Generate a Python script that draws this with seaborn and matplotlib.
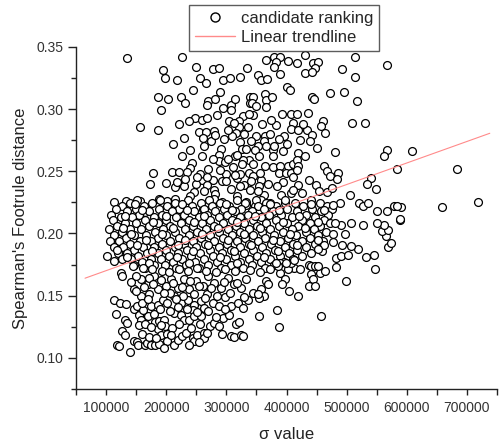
import numpy as np
import pandas as pd
import matplotlib
matplotlib.use("Agg")
import matplotlib.pyplot as plt
import seaborn as sns
from matplotlib.ticker import MultipleLocator, FormatStrFormatter
from matplotlib.lines import Line2D

# sigma values are written in thousands, distances as read on the y scale
upper_sigma_k = [134, 226, 194, 198, 218, 249, 256, 266, 278, 288, 294, 306, 323, 335,
                 187, 203, 225, 191, 156, 187, 270, 267, 248, 260, 268, 284, 294, 307, 308, 328, 321,
                 255, 266, 261, 321, 316, 336, 323, 326, 291, 288, 287, 240, 227, 260, 243, 239, 311, 338, 337,
                 209, 222, 234, 178, 173, 199, 259, 277, 256, 280, 307, 281, 280, 292, 317, 333,
                 114, 133, 156, 188, 164, 202, 214, 219, 237, 247, 239, 261, 340, 339, 344]
upper_dist = [0.341, 0.342, 0.331, 0.325, 0.323, 0.334, 0.325, 0.321, 0.332, 0.333, 0.323, 0.325, 0.326, 0.333,
              0.310, 0.308, 0.310, 0.299, 0.2855, 0.2835, 0.3066, 0.3034, 0.293, 0.291, 0.293, 0.2954, 0.301, 0.303, 0.2994, 0.2944, 0.2906,
              0.2815, 0.2815, 0.2767, 0.2852, 0.2807, 0.2852, 0.2735, 0.268, 0.268, 0.2633, 0.258, 0.2667, 0.262, 0.262, 0.257, 0.2528, 0.253, 0.2486, 0.259,
              0.2496, 0.2496, 0.2496, 0.2483, 0.240, 0.2402, 0.243, 0.243, 0.2478, 0.235, 0.236, 0.232, 0.2277, 0.2253, 0.2298, 0.2255,
              0.2253, 0.2258, 0.2263, 0.228, 0.217, 0.2263, 0.228, 0.2213, 0.2226, 0.233, 0.2304, 0.2197, 0.310, 0.305, 0.2954]

mid_sigma_k = [352, 357, 368, 366, 379, 390, 383, 403, 379, 390, 401, 406, 344, 343, 350, 365, 366, 376, 366,
               383, 408, 411, 407, 349, 364, 362, 366, 352, 347, 377, 377, 364, 377, 390, 402, 411, 387, 399, 408,
               358, 369, 355, 391, 408, 397, 363, 372, 358, 347, 333,
               431, 417, 444, 453, 448, 431, 442, 514, 493, 514, 567, 472, 496, 442, 446, 518, 436, 460, 457, 464,
               509, 530, 419, 434, 422, 442, 439, 451, 481, 419, 431, 417, 419, 417, 567, 562, 462, 467, 473, 486,
               484, 438, 449, 454, 467, 475, 541, 534, 549, 584, 419, 411, 425,
               268, 292, 300, 318, 330, 345, 298, 315, 328, 340, 395, 410, 356, 384, 262, 250, 230, 215, 310, 280,
               396, 428, 305, 322,
               262, 274, 281, 296, 303, 313, 330, 341, 333, 318, 302, 289, 300, 314, 326, 345, 354, 341, 352, 323,
               270, 278, 268, 252, 231, 218, 395, 388, 372, 380, 401, 418, 392, 374, 359, 337, 315, 290, 281, 245,
               232, 238, 221, 212, 229]
mid_dist = [0.3275, 0.3235, 0.3243, 0.3396, 0.3417, 0.342, 0.338, 0.339, 0.3337, 0.328, 0.318, 0.3155, 0.3096, 0.3048, 0.3026, 0.3123, 0.3074, 0.310, 0.302,
            0.2874, 0.296, 0.289, 0.284, 0.278, 0.278, 0.274, 0.2705, 0.270, 0.2673, 0.2667, 0.2625, 0.2539, 0.2534, 0.254, 0.2544, 0.256, 0.2486, 0.2486, 0.2486,
            0.243, 0.240, 0.2384, 0.231, 0.2325, 0.2245, 0.231, 0.2245, 0.227, 0.2218, 0.223,
            0.3436, 0.337, 0.337, 0.338, 0.333, 0.329, 0.330, 0.342, 0.332, 0.326, 0.3355, 0.3128, 0.3136, 0.310, 0.3082, 0.3061, 0.2968, 0.290, 0.2866, 0.2807,
            0.289, 0.289, 0.2834, 0.2834, 0.2753, 0.2793, 0.274, 0.2687, 0.2651, 0.2646, 0.262, 0.2593, 0.2545, 0.2507, 0.2673, 0.2625, 0.2539, 0.2504, 0.2464, 0.2486,
            0.2438, 0.2432, 0.239, 0.2338, 0.233, 0.2365, 0.2446, 0.240, 0.2357, 0.2515, 0.239, 0.235, 0.2325,
            0.239, 0.242, 0.248, 0.2445, 0.239, 0.246, 0.2575, 0.262, 0.259, 0.235, 0.241, 0.245, 0.2485, 0.238, 0.2345, 0.240, 0.238, 0.237, 0.278, 0.282,
            0.278, 0.288, 0.2905, 0.2475,
            0.270, 0.274, 0.279, 0.276, 0.283, 0.289, 0.280, 0.274, 0.268, 0.263, 0.260, 0.251, 0.242, 0.247, 0.256, 0.256, 0.262, 0.242, 0.234, 0.238,
            0.252, 0.260, 0.245, 0.245, 0.244, 0.241, 0.266, 0.276, 0.280, 0.270, 0.272, 0.296, 0.296, 0.291, 0.288, 0.296, 0.308, 0.314, 0.308, 0.315,
            0.305, 0.290, 0.288, 0.272, 0.277]

# dense core of the cloud, one list of sigma values per distance level
band_levels = [0.2271, 0.2248, 0.2224, 0.2199, 0.2177, 0.2152, 0.2128, 0.2105,
               0.2081, 0.2057, 0.2034, 0.2010, 0.1986, 0.1962, 0.1939, 0.1915,
               0.1891, 0.1868, 0.1844, 0.1820, 0.1797, 0.1773, 0.1749, 0.1726,
               0.2236, 0.2189, 0.2140, 0.2093, 0.2045, 0.1998, 0.1950, 0.1903,
               0.1856, 0.1808, 0.1761]
band_sigma_k = [
    [152, 190, 236, 271, 318, 349, 398, 441],
    [139, 176, 214, 258, 289, 331, 366, 414, 455],
    [127, 163, 201, 243, 276, 305, 352, 383, 427, 468],
    [117, 149, 188, 222, 262, 296, 324, 362, 401, 443, 476],
    [134, 171, 209, 247, 281, 314, 343, 378, 418, 457],
    [109, 155, 193, 230, 268, 301, 336, 371, 391, 432, 469],
    [124, 143, 180, 216, 254, 287, 322, 357, 409, 448],
    [111, 164, 199, 238, 273, 309, 344, 382, 425, 463],
    [131, 150, 186, 225, 259, 294, 330, 366, 400, 439, 472],
    [118, 171, 207, 244, 279, 316, 351, 388, 419, 455],
    [105, 139, 158, 194, 231, 266, 302, 338, 373, 409, 446],
    [126, 181, 214, 251, 287, 323, 359, 394, 432, 466],
    [113, 147, 167, 200, 238, 272, 309, 345, 380, 416, 453],
    [133, 187, 222, 258, 294, 331, 365, 403, 439],
    [107, 121, 156, 174, 207, 244, 280, 317, 352, 389, 425, 461],
    [140, 193, 229, 265, 301, 338, 374, 411, 447],
    [114, 128, 162, 180, 214, 250, 287, 323, 360, 397, 432],
    [147, 199, 235, 272, 308, 345, 381, 418],
    [120, 135, 168, 186, 220, 257, 293, 330, 366, 404, 441],
    [153, 205, 242, 278, 315, 351, 389, 426],
    [127, 141, 174, 192, 227, 263, 300, 337, 373, 411],
    [159, 211, 248, 285, 322, 358, 396],
    [146, 180, 198, 233, 270, 307, 343, 380],
    [165, 217, 254, 291, 328, 365],
    [148, 226, 300, 372, 440],
    [160, 235, 309, 388, 462],
    [131, 199, 262, 348, 420],
    [178, 247, 318, 395, 452],
    [128, 212, 286, 356, 430],
    [141, 193, 260, 329, 406, 478],
    [166, 232, 303, 377, 452],
    [151, 219, 270, 341, 418],
    [176, 244, 313, 386, 459],
    [134, 218, 289, 362],
    [172, 238, 317, 390],
]

right_sigma_k = [589, 568, 574, 565, 559, 569, 562, 550, 527, 508, 491, 480, 519, 508, 498, 493, 477, 463, 452,
                 506, 520, 528, 536, 550, 567, 578, 489, 478, 590, 583, 588,
                 608, 684, 659, 718, 101, 113, 118, 124, 127]
right_dist = [0.2105, 0.189, 0.192, 0.198, 0.2017, 0.203, 0.207, 0.208, 0.207, 0.2085, 0.207, 0.2085, 0.1876, 0.190, 0.1996, 0.191, 0.193, 0.1905, 0.1876,
              0.231, 0.2245, 0.2218, 0.2245, 0.2178, 0.2178, 0.2218, 0.2245, 0.223, 0.221, 0.2218, 0.2116,
              0.266, 0.252, 0.2213, 0.2255, 0.182, 0.178, 0.187, 0.1683, 0.166]

lower_sigma_k = [113, 123, 133, 116, 132, 134, 126, 131, 119, 122, 140,
                 147, 152, 153, 165, 168, 146, 154, 158, 155,
                 169, 179, 181, 188, 196, 198, 186, 191, 201, 174, 181, 188, 202, 213, 219, 227, 233, 244, 247, 252,
                 262, 263, 272, 280, 288, 294, 305, 308, 312, 316,
                 213, 224, 236, 247, 258, 244, 263, 277, 288, 308, 319, 327, 336,
                 147, 158, 152, 161, 174, 186, 194, 202, 213, 224, 230, 238, 247, 258,
                 158, 169, 180, 186, 200, 208, 219, 230, 238, 250, 261, 269, 280, 291, 302, 313, 324, 333,
                 145, 162, 176, 193, 205, 222, 236, 252, 266, 283, 298, 315, 340, 356, 372, 390,
                 150, 172, 206, 228, 268, 298, 345,
                 413, 423, 402, 407, 413, 399, 386, 383, 438, 441, 447, 440, 444, 438, 448, 455, 464, 452,
                 482, 499, 483, 490, 502, 532, 545, 547,
                 457, 419, 404, 397, 392, 384, 388, 354, 358, 362, 355, 352, 366, 369, 321, 324, 327,
                 142, 150, 163, 171, 178, 192, 197, 211, 216, 226, 240, 246, 255, 265, 275, 284, 296, 306, 318, 329,
                 160, 170, 190, 206, 219, 234, 252, 270, 282, 297,
                 164, 175, 192, 210, 222, 241, 256, 268, 292,
                 159, 172, 208, 238, 255, 196, 183]
lower_dist = [0.1468, 0.1442, 0.1434, 0.135, 0.1308, 0.1276, 0.1214, 0.118, 0.110, 0.1094, 0.1048,
              0.1134, 0.113, 0.1107, 0.110, 0.112, 0.1396, 0.1348, 0.1308, 0.126,
              0.1335, 0.1353, 0.1286, 0.1294, 0.1308, 0.1254, 0.1228, 0.1187, 0.1195, 0.1107, 0.110, 0.1115, 0.1134, 0.1107, 0.1147, 0.1174, 0.120, 0.116, 0.1134, 0.1187,
              0.120, 0.116, 0.1254, 0.128, 0.1254, 0.1322, 0.1348, 0.1174, 0.117, 0.1268,
              0.1495, 0.1442, 0.1468, 0.1428, 0.1455, 0.1388, 0.1402, 0.1442, 0.1415, 0.1415, 0.1442, 0.1402, 0.1468,
              0.155, 0.1495, 0.1415, 0.1388, 0.1415, 0.1428, 0.1468, 0.1442, 0.1362, 0.1348, 0.1308, 0.1308, 0.1335, 0.1335,
              0.163, 0.159, 0.1656, 0.155, 0.1576, 0.163, 0.1563, 0.163, 0.155, 0.1615, 0.1576, 0.1656, 0.160, 0.1563, 0.1643, 0.159, 0.1563, 0.163,
              0.1736, 0.1725, 0.171, 0.170, 0.169, 0.1715, 0.1695, 0.172, 0.170, 0.169, 0.1712, 0.1695, 0.1705, 0.169, 0.1712, 0.168,
              0.1535, 0.151, 0.1525, 0.150, 0.151, 0.149, 0.1525,
              0.172, 0.1715, 0.1715, 0.176, 0.179, 0.176, 0.1736, 0.176, 0.175, 0.1736, 0.174, 0.1677, 0.163, 0.158, 0.158, 0.1683, 0.1696, 0.1736,
              0.173, 0.1615, 0.180, 0.182, 0.183, 0.181, 0.183, 0.1717,
              0.1335, 0.150, 0.1535, 0.1635, 0.159, 0.1383, 0.1246, 0.1335, 0.155, 0.1495, 0.148, 0.1517, 0.1615, 0.159, 0.1286, 0.118, 0.1174,
              0.161, 0.1655, 0.157, 0.1645, 0.159, 0.1625, 0.152, 0.160, 0.147, 0.157, 0.162, 0.151, 0.158, 0.148, 0.156, 0.150, 0.161, 0.152, 0.160, 0.149,
              0.144, 0.147, 0.139, 0.138, 0.141, 0.139, 0.137, 0.138, 0.133, 0.139,
              0.127, 0.125, 0.1265, 0.124, 0.127, 0.124, 0.127, 0.120, 0.119,
              0.119, 0.117, 0.118, 0.110, 0.113, 0.108, 0.116]

# linear trendline end points
trend_sigma = [65000, 738000]
trend_dist = [0.164, 0.2805]

band_x = [s for row in band_sigma_k for s in row]
band_y = [lvl for lvl, row in zip(band_levels, band_sigma_k) for _ in row]

sigma = np.array(upper_sigma_k + mid_sigma_k + band_x + right_sigma_k + lower_sigma_k, dtype=float) * 1000
dist = np.array(upper_dist + mid_dist + band_y + right_dist + lower_dist, dtype=float)
df = pd.DataFrame({"sigma": sigma, "dist": dist})
trend = pd.DataFrame({"sigma": trend_sigma, "dist": trend_dist})

sns.set_style("ticks")
plt.rcParams["font.family"] = ["Liberation Sans", "DejaVu Sans"]

fig = plt.figure(figsize=(5.0, 4.46), dpi=100)
ax = fig.add_axes([0.152, 0.128, 0.842, 0.767])

sns.scatterplot(data=df, x="sigma", y="dist", ax=ax, marker="o", s=32,
                facecolor="white", edgecolor="black", linewidth=0.9, legend=False, zorder=2)
sns.lineplot(data=trend, x="sigma", y="dist", ax=ax, color="#ff8a8a", linewidth=0.8,
             legend=False, zorder=3)

ax.set_xlim(50000, 750000)
ax.set_ylim(0.075, 0.35)
ax.xaxis.set_major_locator(MultipleLocator(100000))
ax.xaxis.set_minor_locator(MultipleLocator(50000))
ax.yaxis.set_major_locator(MultipleLocator(0.05))
ax.yaxis.set_minor_locator(MultipleLocator(0.025))
ax.yaxis.set_major_formatter(FormatStrFormatter("%.2f"))
ax.xaxis.set_major_formatter(FormatStrFormatter("%d"))

sns.despine(ax=ax)
for side in ("left", "bottom"):
    ax.spines[side].set_linewidth(1.0)
    ax.spines[side].set_color("#222222")

ax.tick_params(axis="both", which="both", direction="out", colors="#222222",
               labelcolor="#333333", labelsize=10, width=1.0)
ax.tick_params(axis="x", which="major", length=4, pad=5)
ax.tick_params(axis="x", which="minor", length=4)
ax.tick_params(axis="y", which="major", length=6, pad=3)
ax.tick_params(axis="y", which="minor", length=3.5)

ax.set_xlabel("σ value", fontsize=12, color="#222222", labelpad=8)
ax.set_ylabel("Spearman's Footrule distance", fontsize=12, color="#222222", labelpad=6)

handles = [
    Line2D([], [], linestyle="none", marker="o", markersize=6.5, markerfacecolor="white",
           markeredgecolor="black", markeredgewidth=1.0),
    Line2D([], [], color="#ff8a8a", linewidth=1.0),
]
leg = fig.legend(handles, ["candidate ranking", "Linear trendline"], loc="upper left",
                 bbox_to_anchor=(0.378, 0.989), fontsize=12, frameon=True, fancybox=False,
                 borderpad=0.35, handlelength=2.4, handletextpad=0.35, labelspacing=0.25,
                 borderaxespad=0.0)
leg.get_frame().set_edgecolor("#333333")
leg.get_frame().set_linewidth(1.0)

fig.savefig("out.png", dpi=100)
